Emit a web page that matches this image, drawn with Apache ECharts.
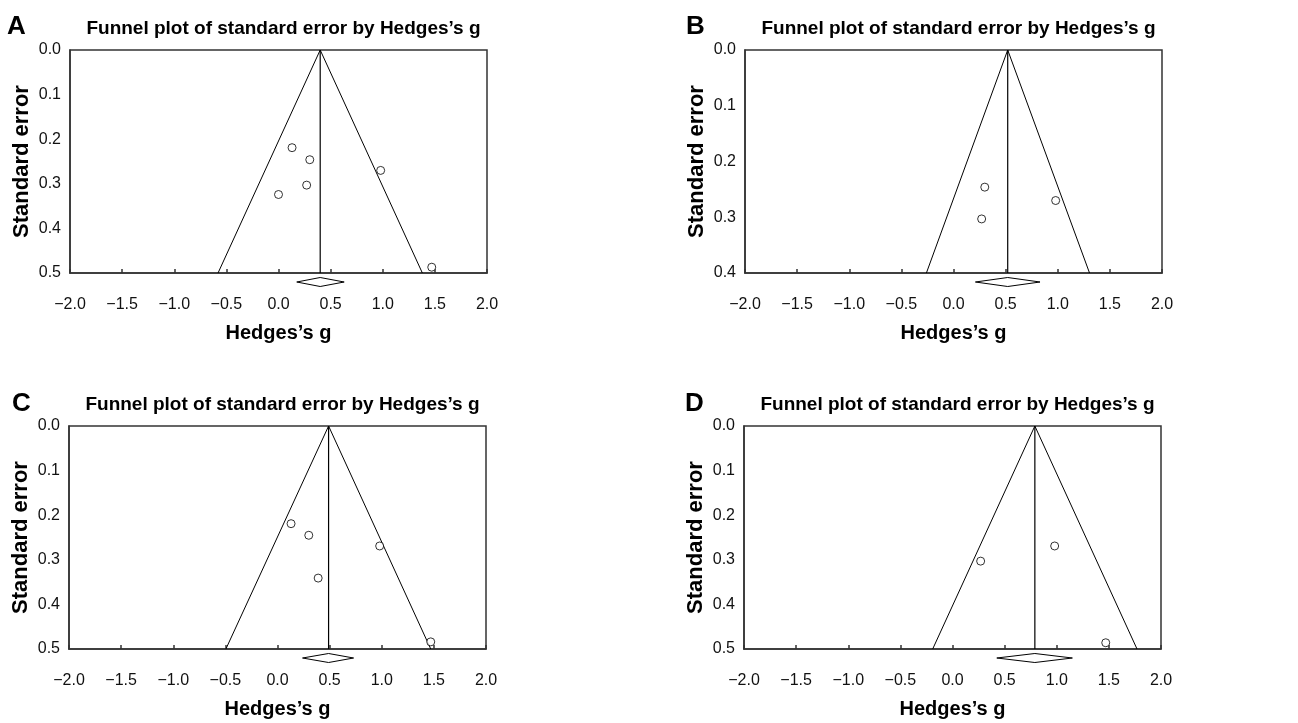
<!DOCTYPE html>
<html>
<head>
<meta charset="utf-8">
<script src="https://cdn.jsdelivr.net/npm/echarts@6/dist/echarts.min.js"></script>
<style>
  html, body { margin: 0; padding: 0; background: #fff; }
  #chart { width: 1298px; height: 723px; }
</style>
</head>
<body>
<div id="chart"></div>
<script>
// panel letters and shared text
const panelNames = ['A', 'B', 'C', 'D'];
const titleText = 'Funnel plot of standard error by Hedges\u2019s g';

// y axis max (standard error) for each panel
const seMax = [0.5, 0.4, 0.5, 0.5];

// pooled estimate and its CI (diamond)
const pooledG = [0.40, 0.52, 0.49, 0.79];
const ciLow = [0.175, 0.21, 0.24, 0.425];
const ciHigh = [0.63, 0.83, 0.73, 1.15];

// funnel bottom ends (pseudo 95% limits at seMax)
const funnelLeft = [-0.58, -0.26, -0.495, -0.19];
const funnelRight = [1.38, 1.305, 1.47, 1.77];

// individual studies: Hedges's g and standard error
const gA = [0.13, 0.30, 0.98, 0.27, 0.00, 1.47];
const seA = [0.219, 0.246, 0.270, 0.303, 0.324, 0.487];
const gB = [0.30, 0.27, 0.98];
const seB = [0.246, 0.303, 0.270];
const gC = [0.13, 0.30, 0.98, 0.39, 1.47];
const seC = [0.219, 0.245, 0.269, 0.341, 0.484];
const gD = [0.27, 0.98, 1.47];
const seD = [0.303, 0.269, 0.486];

const studyG = [gA, gB, gC, gD];
const studySE = [seA, seB, seC, seD];

// layout of the four plot boxes
const grids = [
  { left: 70, top: 50, width: 417, height: 223 },
  { left: 745, top: 50, width: 417, height: 223 },
  { left: 69, top: 426, width: 417, height: 223 },
  { left: 744, top: 426, width: 417, height: 223 }
];
const letterPos = [[7, 14], [686, 14], [12, 391], [685, 391]];

const FONT = '"Liberation Sans", Arial, sans-serif';
const fmt = v => v.toFixed(1).replace('-', '\u2212');

const chart = echarts.init(document.getElementById('chart'));

const titles = [];
const xAxes = [];
const yAxes = [];
const series = [];

grids.forEach((g, i) => {
  // panel letter
  titles.push({
    text: panelNames[i],
    left: letterPos[i][0],
    top: letterPos[i][1],
    padding: 0,
    textStyle: { fontFamily: FONT, fontSize: 26, fontWeight: 'bold', color: '#000' }
  });
  // panel title
  titles.push({
    text: titleText,
    left: g.left + g.width / 2,
    textAlign: 'center',
    top: g.top - 36,
    textStyle: { fontFamily: FONT, fontSize: 19, fontWeight: 'bold', color: '#000' }
  });

  xAxes.push({
    gridIndex: i,
    type: 'value',
    position: 'bottom',
    min: -2, max: 2, interval: 0.5,
    name: 'Hedges\u2019s g',
    nameLocation: 'middle',
    nameGap: 50,
    nameTextStyle: { fontFamily: FONT, fontSize: 20, fontWeight: 'bold', color: '#000' },
    axisLine: { show: true, onZero: false, lineStyle: { color: '#333', width: 1.5 } },
    axisTick: { show: true, inside: true, length: 4, lineStyle: { color: '#333', width: 1.5 } },
    axisLabel: { margin: 24, fontFamily: FONT, fontSize: 16, color: '#111', formatter: fmt, showMinLabel: true, showMaxLabel: true },
    splitLine: { show: false }
  });
  yAxes.push({
    gridIndex: i,
    type: 'value',
    position: 'left',
    inverse: true,
    min: 0, max: seMax[i], interval: 0.1,
    name: 'Standard error',
    nameLocation: 'middle',
    nameGap: 37,
    nameTextStyle: { fontFamily: FONT, fontSize: 22, fontWeight: 'bold', color: '#000' },
    axisLine: { show: true, onZero: false, lineStyle: { color: '#333', width: 1.5 } },
    axisTick: { show: false },
    axisLabel: { margin: 9, fontFamily: FONT, fontSize: 16, color: '#111', formatter: fmt },
    splitLine: { show: false }
  });

  // funnel sides
  series.push({
    type: 'line', xAxisIndex: i, yAxisIndex: i,
    data: [[funnelLeft[i], seMax[i]], [pooledG[i], 0], [funnelRight[i], seMax[i]]],
    symbol: 'none', silent: true,
    lineStyle: { color: '#000', width: 1 }
  });
  // pooled estimate line
  series.push({
    type: 'line', xAxisIndex: i, yAxisIndex: i,
    data: [[pooledG[i], 0], [pooledG[i], seMax[i]]],
    symbol: 'none', silent: true,
    lineStyle: { color: '#000', width: 1.2 }
  });
  // studies
  series.push({
    type: 'scatter', xAxisIndex: i, yAxisIndex: i,
    data: studyG[i].map((v, k) => [v, studySE[i][k]]),
    symbol: 'circle', symbolSize: 8,
    itemStyle: { color: '#fff', borderColor: '#000', borderWidth: 1 },
    z: 5
  });
  // diamond for pooled CI, drawn just below the axis
  series.push({
    type: 'custom', xAxisIndex: i, yAxisIndex: i,
    clip: false, silent: true,
    data: [[ciLow[i], pooledG[i], ciHigh[i], seMax[i]]],
    renderItem: (params, api) => {
      const pL = api.coord([api.value(0), api.value(3)]);
      const pC = api.coord([api.value(1), api.value(3)]);
      const pH = api.coord([api.value(2), api.value(3)]);
      const y0 = pC[1] + 9;
      return {
        type: 'polygon',
        shape: { points: [[pL[0], y0], [pC[0], y0 - 4.5], [pH[0], y0], [pC[0], y0 + 4.5]] },
        style: { fill: '#fff', stroke: '#000', lineWidth: 1 }
      };
    },
    z: 6
  });
});

const option = {
  backgroundColor: '#fff',
  animation: false,
  title: titles,
  grid: grids.map(g => Object.assign({ show: true, borderColor: '#333', borderWidth: 1.5 }, g)),
  xAxis: xAxes,
  yAxis: yAxes,
  series: series
};

chart.setOption(option);
</script>
</body>
</html>
